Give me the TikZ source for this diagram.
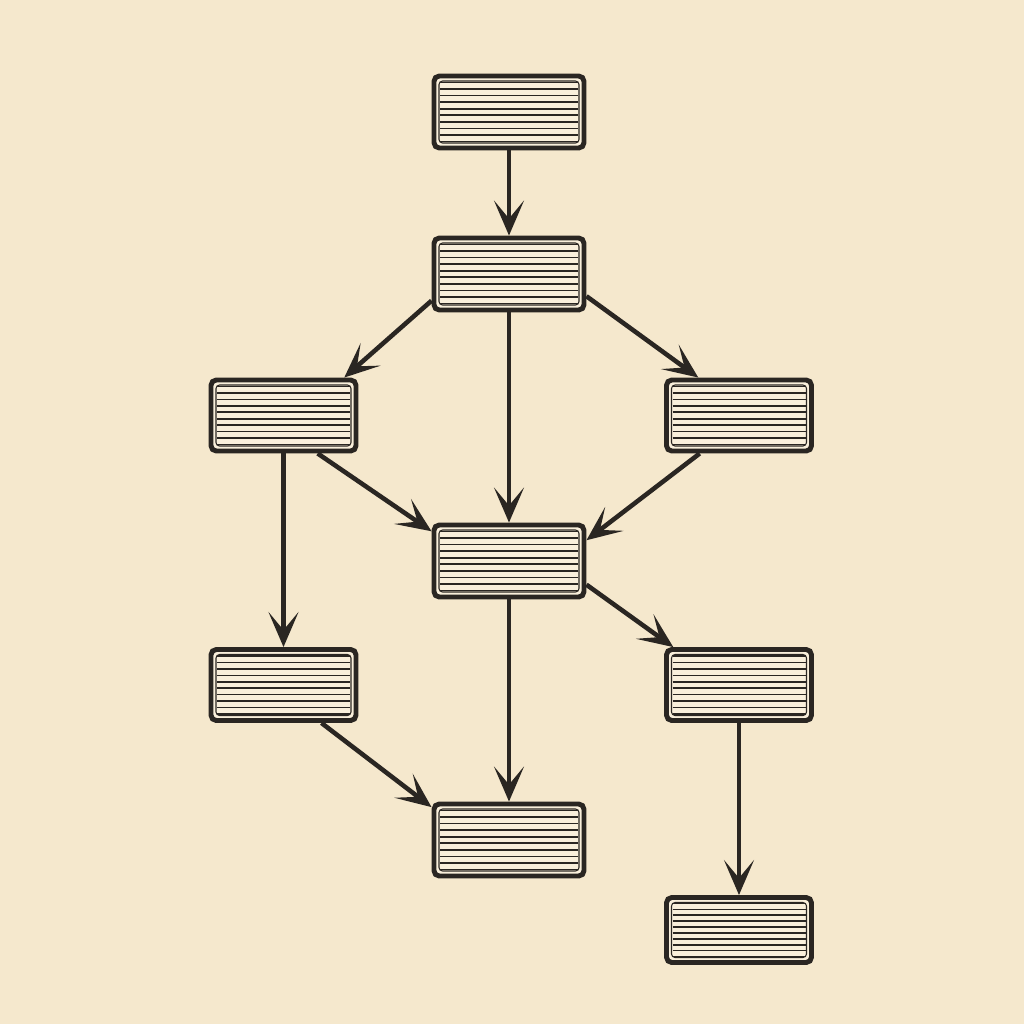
\documentclass[tikz,border=0pt]{standalone}
\usepackage{amsmath}
\usepackage{tikz}
\usetikzlibrary{arrows.meta,calc}

\definecolor{paper}{RGB}{245,232,205}
\definecolor{cardfill}{RGB}{249,239,219}
\definecolor{ink}{RGB}{42,38,34}

\begin{document}
\begin{tikzpicture}[
	card/.style={draw=ink, line width=2.8pt, fill=cardfill, rounded corners=3pt,
		minimum width=3cm, minimum height=1.44cm, inner sep=0pt,
		path picture={
			\draw[ink, line width=0.6pt, rounded corners=2pt] ([shift={(0.1,0.1)}]path picture bounding box.south west) rectangle ([shift={(-0.1,-0.1)}]path picture bounding box.north east);
			\foreach \k in {1,...,10}
				\draw[ink, line width=0.9pt] ($(path picture bounding box.south west)!\k/11!(path picture bounding box.north west)+(0.12,0)$) -- ($(path picture bounding box.south east)!\k/11!(path picture bounding box.north east)+(-0.12,0)$);
		}},
	smallcard/.style={card, minimum width=2.9cm, minimum height=1.42cm},
	flow/.style={draw=ink, line width=2.6pt, -{Stealth[length=7mm, width=6mm, inset=3.6mm]}}
]
	\fill[paper] (0,0) rectangle (20.48,-20.48);
	\useasboundingbox (0,0) rectangle (20.48,-20.48);
	\node[card] (a) at (10.18,-2.24) {};
	\node[card] (b) at (10.18,-5.48) {};
	\node[smallcard] (c) at (5.67,-8.31) {};
	\node[smallcard] (d) at (14.78,-8.31) {};
	\node[card] (e) at (10.18,-11.22) {};
	\node[smallcard] (f) at (5.67,-13.7) {};
	\node[smallcard] (g) at (14.78,-13.7) {};
	\node[card] (h) at (10.18,-16.8) {};
	\node[smallcard, minimum height=1.3cm] (i) at (14.78,-18.6) {};
	\draw[flow] (a.south) -- (b.north);
	\draw[flow] (b.199) -- (c.32);
	\draw[flow] (b.south) -- (e.north);
	\draw[flow] (b.344) -- (d.137.7);
	\draw[flow] (c.south) -- (f.north);
	\draw[flow] (c.312.5) -- (e.159.5);
	\draw[flow] (d.224.6) -- (e.15.6);
	\draw[flow] (e.south) -- (h.north);
	\draw[flow] (e.343.7) -- (g.150);
	\draw[flow] (f.315.4) -- (h.157.4);
	\draw[flow] (g.south) -- (i.north);
\end{tikzpicture}
\end{document}
